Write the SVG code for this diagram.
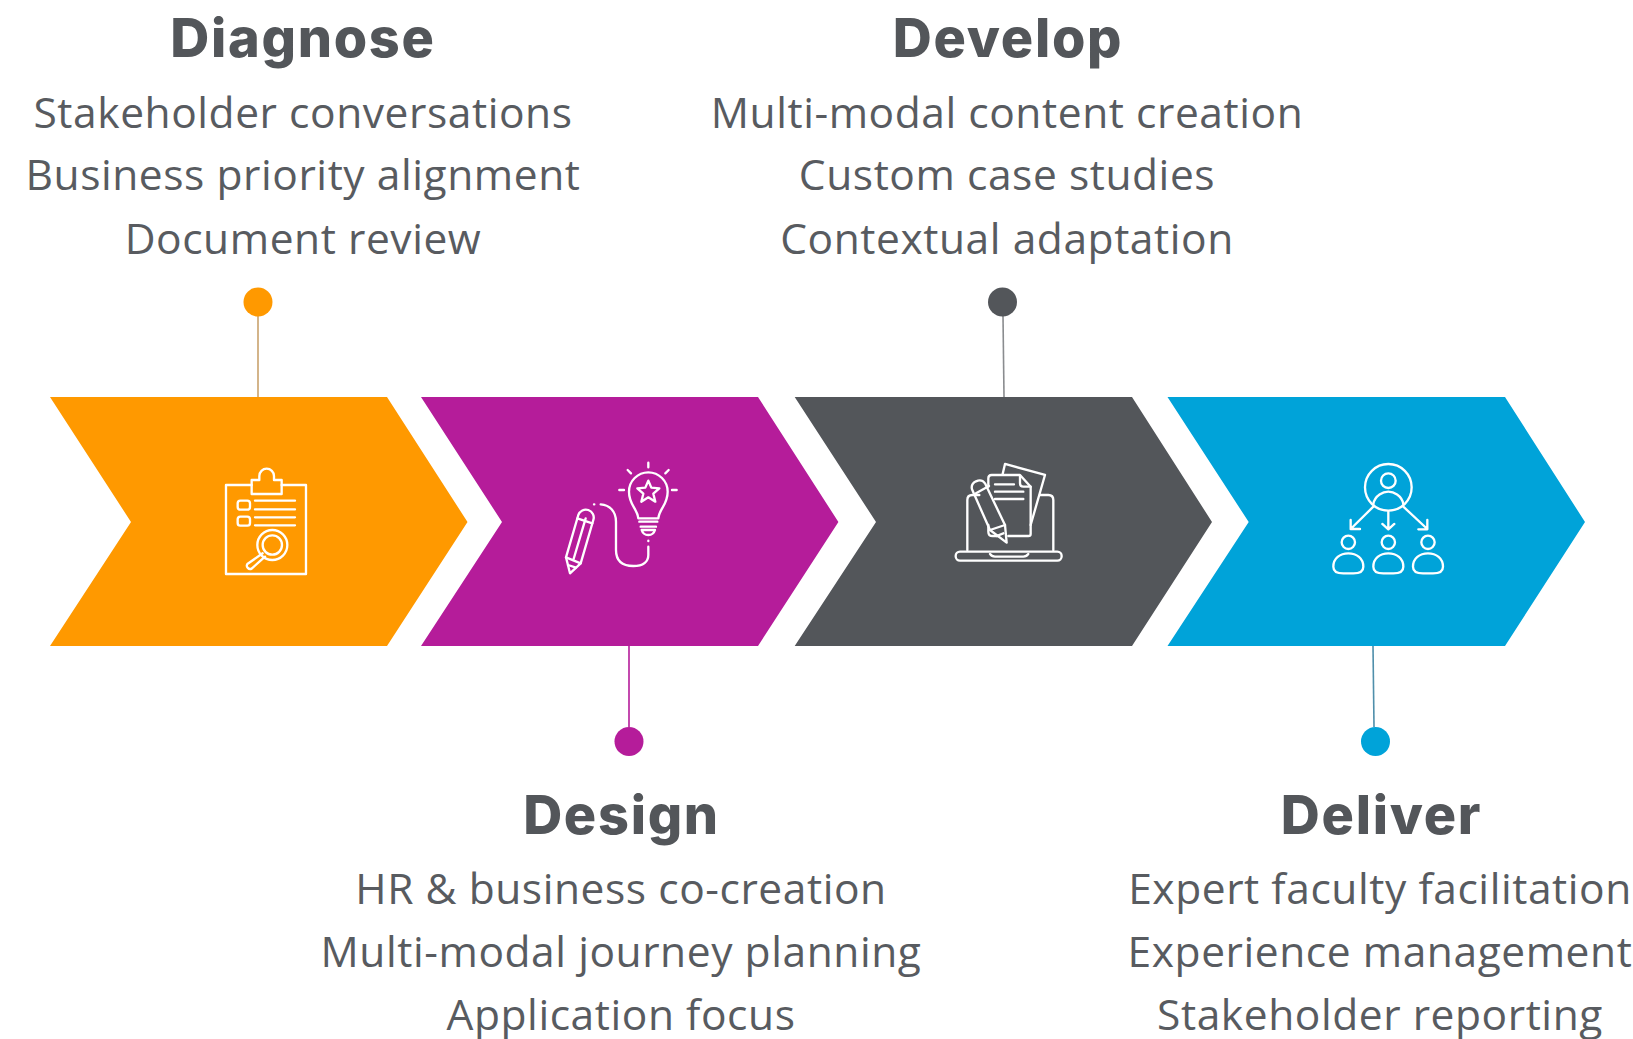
<svg xmlns="http://www.w3.org/2000/svg" width="1633" height="1039" viewBox="0 0 1633 1039">
<style>
.h{font-family:"Inter","Liberation Sans",sans-serif;font-weight:800;font-size:54px;fill:#53565a;text-anchor:middle;letter-spacing:1.7px}
.b{font-family:"Open Sans","Liberation Sans",sans-serif;font-size:42.5px;fill:#585b60;text-anchor:middle;letter-spacing:.56px}
.i{fill:none;stroke:#fff;stroke-width:7;stroke-linecap:round;stroke-linejoin:round}
.c{fill:none;stroke-width:1.6}
</style>
<rect width="1633" height="1039" fill="#fff"/>
<g id="connectors">
<line class="c" x1="258" y1="316" x2="258" y2="397" stroke="#c9a26d"/>
<line class="c" x1="629" y1="646" x2="629" y2="727" stroke="#b51c9a"/>
<line class="c" x1="1003" y1="316" x2="1004" y2="397" stroke="#8a8c8f"/>
<line class="c" x1="1373" y1="646" x2="1374" y2="727" stroke="#4f8fab"/>
</g>
<g id="diagnose">
<polygon points="50,397 387,397 467.500,522 387,646 50,646 131,522" fill="#ff9900"/>
<circle cx="258" cy="302" r="14.500" fill="#ff9900"/>
<text class="h" x="303" y="57">Diagnose</text>
<text class="b" x="303" y="128">Stakeholder conversations</text>
<text class="b" x="303" y="190">Business priority alignment</text>
<text class="b" x="303" y="254">Document review</text>
<g class="i" transform="translate(200 440) scale(.3333)">
<path d="M155 135H78V402H318V135H245"/>
<path d="M155 120H178V108A22 22 0 0 1 222 108V120H245V162H155Z"/>
<rect x="113" y="182" width="37" height="27" rx="8"/>
<rect x="113" y="230" width="37" height="27" rx="8"/>
<path d="M165 182H285M165 208H285M165 232H285M165 256H285"/>
<circle cx="217" cy="315" r="45"/>
<circle cx="217" cy="315" r="29"/>
<path d="M188 340L142 372A10 10 0 0 0 155 386L195 350"/>
</g>
</g>
<g id="design">
<polygon points="421,397 758,397 838.400,522 758,646 421,646 502,522" fill="#b51c9a"/>
<circle cx="629" cy="741.500" r="14.500" fill="#b51c9a"/>
<text class="h" x="621.500" y="834">Design</text>
<text class="b" x="621" y="904">HR &amp; business co-creation</text>
<text class="b" x="621" y="967">Multi-modal journey planning</text>
<text class="b" x="621" y="1029.500">Application focus</text>
<g class="i" transform="translate(550 450) scale(.3333)">
<path d="M295 38V52M233 60L243 70M356 60L346 70M208 120H222M366 120H380"/>
<path d="M265 205C262 175 237 165 237 125A58 58 0 0 1 353 125C353 165 328 175 325 205Z"/>
<path d="M295 92L304 113L328 115L310 131L316 155L295 142L274 155L280 131L262 115L286 113Z"/>
<path d="M268 215H322M272 230H318M275 240H315C312 250 305 255 295 255C285 255 278 250 275 240Z"/>
<path d="M295 272V273M295 290V315C295 335 280 348 250 348C215 348 198 330 198 300V215C198 185 180 165 152 163M132 163H133"/>
<path d="M48 322L85 195A23 23 0 0 1 130 210L92 340L60 370Z"/>
<path d="M48 322L92 340M82 205L127 220M107 205L70 330M54 345L78 353"/>
</g>
</g>
<g id="develop">
<polygon points="794.700,397 1132,397 1212,522 1132,646 794.700,646 876,522" fill="#53565a"/>
<circle cx="1002.500" cy="302" r="14.500" fill="#53565a"/>
<text class="h" x="1008" y="57">Develop</text>
<text class="b" x="1007" y="128">Multi-modal content creation</text>
<text class="b" x="1007" y="190">Custom case studies</text>
<text class="b" x="1007" y="254">Contextual adaptation</text>
<g class="i" transform="translate(940 450) scale(.3333)">
<path d="M82 300V150Q82 135 97 135H118M300 135H325Q340 135 340 150V300"/>
<rect x="47" y="305" width="318" height="27" rx="13"/>
<path d="M150 312Q155 320 165 320H250Q260 320 265 312"/>
<path d="M188 72L195 42L315 75L272 225"/>
<path d="M145 110V85Q145 75 155 75H240L272 110V252Q272 258 265 258H205M145 225V245Q145 258 158 258H175"/>
<path d="M240 78V100Q240 110 250 110H272"/>
<path d="M165 103H222M165 125H250M165 147H250"/>
<path d="M96 118Q92 102 108 94Q125 86 135 100L195 225L200 278L150 240Z"/>
<path d="M108 130L147 108M150 240L195 225M170 258L190 250"/>
</g>
</g>
<g id="deliver">
<polygon points="1167.500,397 1505,397 1585,522 1505,646 1167.500,646 1248.700,522" fill="#00a3d9"/>
<circle cx="1375.500" cy="741.500" r="14.500" fill="#00a3d9"/>
<text class="h" x="1381.500" y="834">Deliver</text>
<text class="b" x="1380" y="904">Expert faculty facilitation</text>
<text class="b" x="1380" y="967">Experience management</text>
<text class="b" x="1380" y="1029.500">Stakeholder reporting</text>
<g class="i" transform="translate(1320 450) scale(.3333)">
<circle cx="205" cy="112" r="70"/>
<circle cx="205" cy="92" r="22"/>
<path d="M160 162C165 135 190 125 205 125C220 125 245 135 250 162"/>
<path d="M160 170L92 237M92 210V237H120M205 185V237M187 222L205 238L223 222M250 170L322 237M322 210V238H295"/>
<g id="p"><circle cx="85" cy="277" r="20"/><path d="M40 350C40 325 60 310 85 310C110 310 130 325 130 350C130 368 115 370 100 370H70C55 370 40 368 40 350Z"/></g>
<use href="#p" x="120"/>
<use href="#p" x="239"/>
</g>
</g>
</svg>
